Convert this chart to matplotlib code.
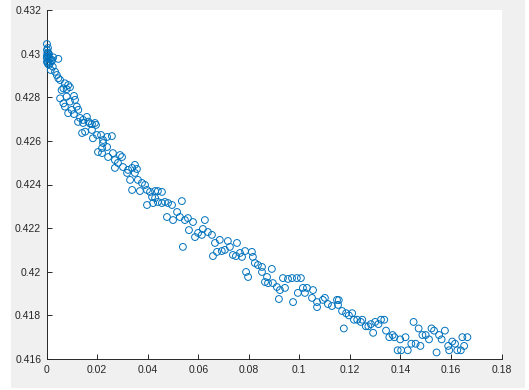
import matplotlib
matplotlib.use("Agg")
import matplotlib.pyplot as plt
from matplotlib.patches import Rectangle
from matplotlib.ticker import FuncFormatter

x_vals = [
    0.0001, 0.0001, 0.0006, 0.0002, 0.0006, 0.0001, 0.0013, 0.0005, 0.0020, 0.0026,
    0.0046, 0.0010, 0.0024, 0.0016, 0.0033, 0.0040, 0.0046, 0.0053, 0.0003, 0.0005,
    0.0009, 0.0001, 0.0005, 0.0013, 0.0001, 0.0009, 0.0021,
    0.0072, 0.0085, 0.0066, 0.0079, 0.0092, 0.0059, 0.0053, 0.0079, 0.0108, 0.0066,
    0.0092, 0.0112, 0.0072, 0.0119, 0.0099, 0.0125, 0.0085, 0.0108, 0.0132, 0.0144,
    0.0159, 0.0165, 0.0179, 0.0191, 0.0124, 0.0144, 0.0171, 0.0195, 0.0140, 0.0152,
    0.0179, 0.0183, 0.0199,
    0.0215, 0.0223, 0.0239, 0.0258, 0.0219, 0.0223, 0.0239, 0.0203, 0.0219, 0.0243,
    0.0262, 0.0270, 0.0290, 0.0298, 0.0282, 0.0302, 0.0270, 0.0322, 0.0338, 0.0349,
    0.0357, 0.0318, 0.0330, 0.0349, 0.0361, 0.0377, 0.0338, 0.0369, 0.0389, 0.0397,
    0.0409, 0.0429, 0.0440, 0.0456, 0.0417, 0.0429, 0.0397, 0.0421, 0.0440, 0.0456,
    0.0468, 0.0480, 0.0496, 0.0535, 0.0476, 0.0500, 0.0516, 0.0527,
    0.0547, 0.0559, 0.0579, 0.0563, 0.0587, 0.0599, 0.0614, 0.0618, 0.0626, 0.0638,
    0.0654, 0.0539, 0.0666, 0.0685, 0.0717, 0.0753, 0.0674, 0.0693, 0.0705, 0.0725,
    0.0658, 0.0737, 0.0749, 0.0765, 0.0773, 0.0785, 0.0812, 0.0816, 0.0824, 0.0836,
    0.0852, 0.0789, 0.0797, 0.0852, 0.0872, 0.0891, 0.0864, 0.0876, 0.0895, 0.0911,
    0.0923, 0.0943, 0.0935, 0.0955, 0.0971, 0.0990, 0.1006, 0.0994, 0.1014, 0.1030,
    0.1054, 0.1022, 0.0919, 0.0975, 0.1050, 0.1070, 0.1093, 0.1101, 0.1113, 0.1129,
    0.1149, 0.1070, 0.1153,
    0.1156, 0.1169, 0.1185, 0.1196, 0.1209, 0.1216, 0.1229, 0.1243, 0.1249, 0.1176,
    0.1263, 0.1273, 0.1283, 0.1292, 0.1300, 0.1313, 0.1323, 0.1336, 0.1343, 0.1356,
    0.1369, 0.1376, 0.1399, 0.1420, 0.1389, 0.1403, 0.1429, 0.1443, 0.1460, 0.1479,
    0.1452, 0.1472, 0.1487, 0.1500, 0.1513, 0.1523, 0.1533, 0.1553, 0.1563, 0.1576,
    0.1543, 0.1589, 0.1593, 0.1605, 0.1616, 0.1625, 0.1639, 0.1652, 0.1645, 0.1665,
]

y_vals = [
    0.43044, 0.43017, 0.43004, 0.42994, 0.42986, 0.42980, 0.42976, 0.42963, 0.42966, 0.42983,
    0.42976, 0.42948, 0.42940, 0.42925, 0.42917, 0.42902, 0.42887, 0.42879, 0.43003, 0.43026,
    0.42998, 0.42962, 0.42953, 0.42957, 0.42985, 0.42980, 0.42971,
    0.42864, 0.42856, 0.42841, 0.42837, 0.42846, 0.42833, 0.42795, 0.42803, 0.42806, 0.42772,
    0.42780, 0.42788, 0.42757, 0.42757, 0.42742, 0.42742, 0.42727, 0.42723, 0.42705, 0.42696,
    0.42710, 0.42688, 0.42677, 0.42682, 0.42687, 0.42682, 0.42680, 0.42673, 0.42636, 0.42642,
    0.42650, 0.42612, 0.42627,
    0.42627, 0.42604, 0.42618, 0.42622, 0.42567, 0.42590, 0.42572, 0.42549, 0.42544, 0.42526,
    0.42544, 0.42512, 0.42535, 0.42526, 0.42499, 0.42480, 0.42476, 0.42467, 0.42476, 0.42490,
    0.42471, 0.42453, 0.42421, 0.42453, 0.42421, 0.42407, 0.42375, 0.42370, 0.42398, 0.42375,
    0.42366, 0.42370, 0.42370, 0.42366, 0.42343, 0.42338, 0.42306, 0.42315, 0.42320, 0.42315,
    0.42320, 0.42315, 0.42306, 0.42324, 0.42251, 0.42237, 0.42274, 0.42251,
    0.42237, 0.42246, 0.42228, 0.42191, 0.42159, 0.42178, 0.42169, 0.42196, 0.42237, 0.42182,
    0.42169, 0.42114, 0.42132, 0.42146, 0.42141, 0.42132, 0.42091, 0.42095, 0.42100, 0.42114,
    0.42072, 0.42077, 0.42072, 0.42086, 0.42068, 0.42095, 0.42091, 0.42068, 0.42040, 0.42031,
    0.42022, 0.41999, 0.41976, 0.41999, 0.41976, 0.42013, 0.41953, 0.41948, 0.41948, 0.41930,
    0.41916, 0.41926, 0.41971, 0.41967, 0.41971, 0.41971, 0.41971, 0.41903, 0.41926, 0.41926,
    0.41916, 0.41903, 0.41875, 0.41861, 0.41880, 0.41861, 0.41871, 0.41880, 0.41852, 0.41843,
    0.41871, 0.41838, 0.41848,
    0.41870, 0.41820, 0.41810, 0.41800, 0.41810, 0.41780, 0.41780, 0.41770, 0.41780, 0.41740,
    0.41750, 0.41750, 0.41760, 0.41720, 0.41770, 0.41760, 0.41780, 0.41780, 0.41730, 0.41700,
    0.41710, 0.41700, 0.41690, 0.41700, 0.41640, 0.41640, 0.41640, 0.41670, 0.41670, 0.41660,
    0.41770, 0.41740, 0.41710, 0.41710, 0.41690, 0.41740, 0.41730, 0.41710, 0.41690, 0.41730,
    0.41630, 0.41660, 0.41640, 0.41680, 0.41670, 0.41640, 0.41640, 0.41660, 0.41700, 0.41700,
]

x_ticks = [0, 0.02, 0.04, 0.06, 0.08, 0.1, 0.12, 0.14, 0.16, 0.18]
y_ticks = [0.416, 0.418, 0.42, 0.422, 0.424, 0.426, 0.428, 0.43, 0.432]

W, H = 529, 390
fig = plt.figure(figsize=(W / 100, H / 100), dpi=100, facecolor="white")
fig.patches.append(Rectangle((11 / W, 2 / H), (525 - 11) / W, 1 - 2 / H,
                             transform=fig.transFigure, facecolor="#f0f0f0",
                             edgecolor="none", zorder=-10))

ax = fig.add_axes([46.7 / W, 1 - 359 / H, (501.5 - 46.7) / W, (359 - 10) / H])
ax.set_zorder(5)
ax.set_facecolor("white")
ax.scatter(x_vals, y_vals, s=24, facecolors="none", edgecolors="#0072BD",
           linewidths=0.7, clip_on=False, zorder=3)

ax.set_xlim(0, 0.18)
ax.set_ylim(0.416, 0.432)
ax.set_xticks(x_ticks)
ax.set_yticks(y_ticks)
fmt = FuncFormatter(lambda v, p: ("%g" % round(v, 6)))
ax.xaxis.set_major_formatter(fmt)
ax.yaxis.set_major_formatter(fmt)

axcol = "#262626"
for side in ("top", "right"):
    ax.spines[side].set_visible(False)
for side in ("left", "bottom"):
    ax.spines[side].set_color(axcol)
    ax.spines[side].set_linewidth(0.7)
ax.tick_params(direction="in", length=3.5, width=0.7, color=axcol,
               labelcolor=axcol, labelsize=7.5, pad=4,
               labelfontfamily="Liberation Sans")

fig.savefig("out.png", dpi=100, facecolor=fig.get_facecolor())
